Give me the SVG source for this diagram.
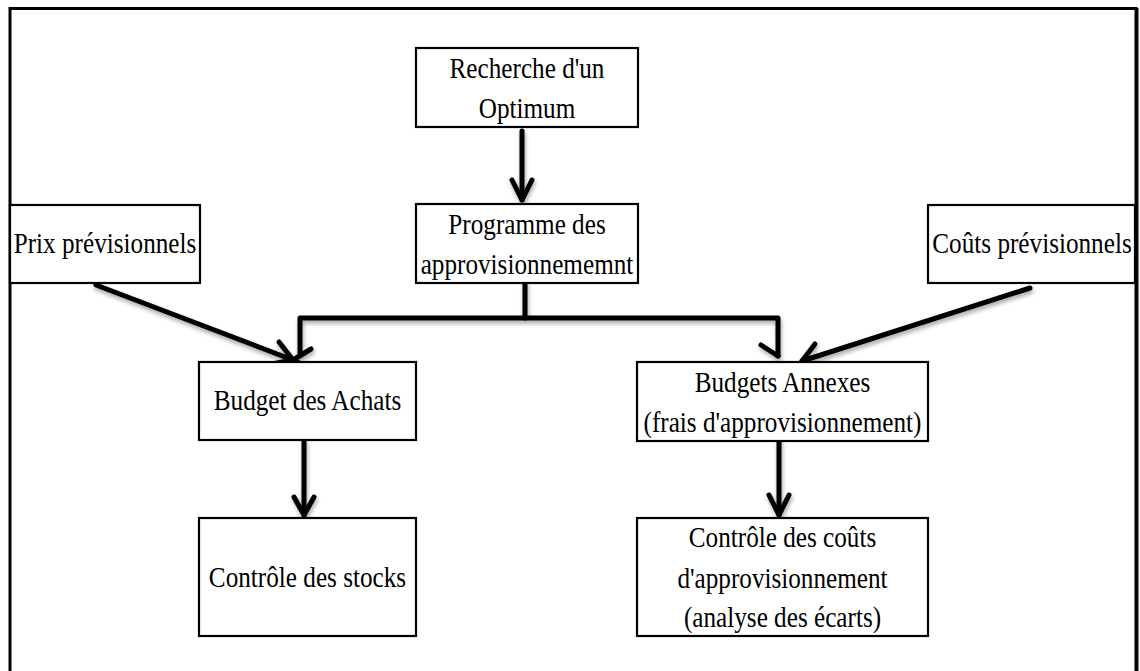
<svg xmlns="http://www.w3.org/2000/svg" width="1140" height="671" viewBox="0 0 1140 671">
  <defs>
    <style>
      .box { fill: #ffffff; stroke: #000000; stroke-width: 2.2; }
      .lbl { font-family: "Liberation Serif", "Times New Roman", serif; font-size: 30px; fill: #000000; text-anchor: middle; }
      .conn { fill: none; stroke: #000000; stroke-width: 5; stroke-linecap: round; stroke-linejoin: round; }
    </style>
    <filter id="soft-shadow" x="-10%" y="-10%" width="120%" height="130%">
      <feDropShadow dx="1" dy="3" stdDeviation="2" flood-color="#000000" flood-opacity="0.35"/>
    </filter>
  </defs>

  <rect width="1140" height="671" fill="#ffffff"/>

  <!-- outer frame (open at the bottom edge of the page) -->
  <path d="M10 680 V8.5 H1136 V680" fill="none" stroke="#000000" stroke-width="3"/>
  <line x1="1137" y1="8" x2="1137" y2="680" stroke="#000000" stroke-width="3"/>

  <!-- connectors -->
  <g id="connectors" filter="url(#soft-shadow)">
    <!-- Recherche -> Programme -->
    <path class="conn" d="M522 131 V200"/>
    <path class="conn" d="M512 180 L522 200 L532 180"/>

    <!-- Programme -> bracket to both budgets -->
    <path class="conn" d="M525 283 V318"/>
    <path class="conn" stroke-width="5.5" d="M300 354 V318 H778 V356"/>
    <path class="conn" d="M311 349 L293 360 L311 369"/>
    <path class="conn" d="M761 345 L778 356"/>

    <!-- Prix previsionnels -> Budget des Achats -->
    <path class="conn" d="M96 285 L293 360"/>
    <path class="conn" d="M279 342 L293 360 L272 364"/>

    <!-- Couts previsionnels -> Budgets Annexes -->
    <path class="conn" d="M1030 288 L802 361"/>
    <path class="conn" d="M815 344 L802 361 L823 367"/>

    <!-- Budget des Achats -> Controle des stocks -->
    <path class="conn" d="M304 441 V515"/>
    <path class="conn" d="M294 497 L304 515 L314 497"/>

    <!-- Budgets Annexes -> Controle des couts -->
    <path class="conn" d="M779 438 V515"/>
    <path class="conn" d="M769 495 L779 515 L789 495"/>
  </g>

  <g id="recherche">
    <rect class="box" x="416" y="48" width="222" height="79"/>
    <text class="lbl" transform="translate(527,78) scale(0.84,1)">Recherche d'un</text>
    <text class="lbl" transform="translate(527,118) scale(0.84,1)">Optimum</text>
  </g>

  <g id="programme">
    <rect class="box" x="416" y="204" width="222" height="79"/>
    <text class="lbl" transform="translate(527,234) scale(0.84,1)">Programme des</text>
    <text class="lbl" transform="translate(527,274) scale(0.84,1)">approvisionnememnt</text>
  </g>

  <g id="prix">
    <rect class="box" x="10" y="205" width="190" height="78"/>
    <text class="lbl" transform="translate(105,253) scale(0.84,1)">Prix prévisionnels</text>
  </g>

  <g id="couts">
    <rect class="box" x="928" y="205" width="207" height="78"/>
    <text class="lbl" transform="translate(1032,253) scale(0.84,1)">Coûts prévisionnels</text>
  </g>

  <g id="achats">
    <rect class="box" x="199" y="362" width="217" height="78"/>
    <text class="lbl" transform="translate(307.5,410) scale(0.84,1)">Budget des Achats</text>
  </g>

  <g id="annexes">
    <rect class="box" x="637" y="362" width="291" height="79"/>
    <text class="lbl" transform="translate(782.5,392) scale(0.84,1)">Budgets Annexes</text>
    <text class="lbl" transform="translate(782.5,432) scale(0.84,1)">(frais d'approvisionnement)</text>
  </g>

  <g id="stocks">
    <rect class="box" x="199" y="518" width="217" height="118"/>
    <text class="lbl" transform="translate(307.5,587) scale(0.84,1)">Contrôle des stocks</text>
  </g>

  <g id="controle">
    <rect class="box" x="637" y="518" width="291" height="118"/>
    <text class="lbl" transform="translate(782.5,547) scale(0.84,1)">Contrôle des coûts</text>
    <text class="lbl" transform="translate(782.5,588) scale(0.84,1)">d'approvisionnement</text>
    <text class="lbl" transform="translate(782.5,627) scale(0.84,1)">(analyse des écarts)</text>
  </g>
</svg>
